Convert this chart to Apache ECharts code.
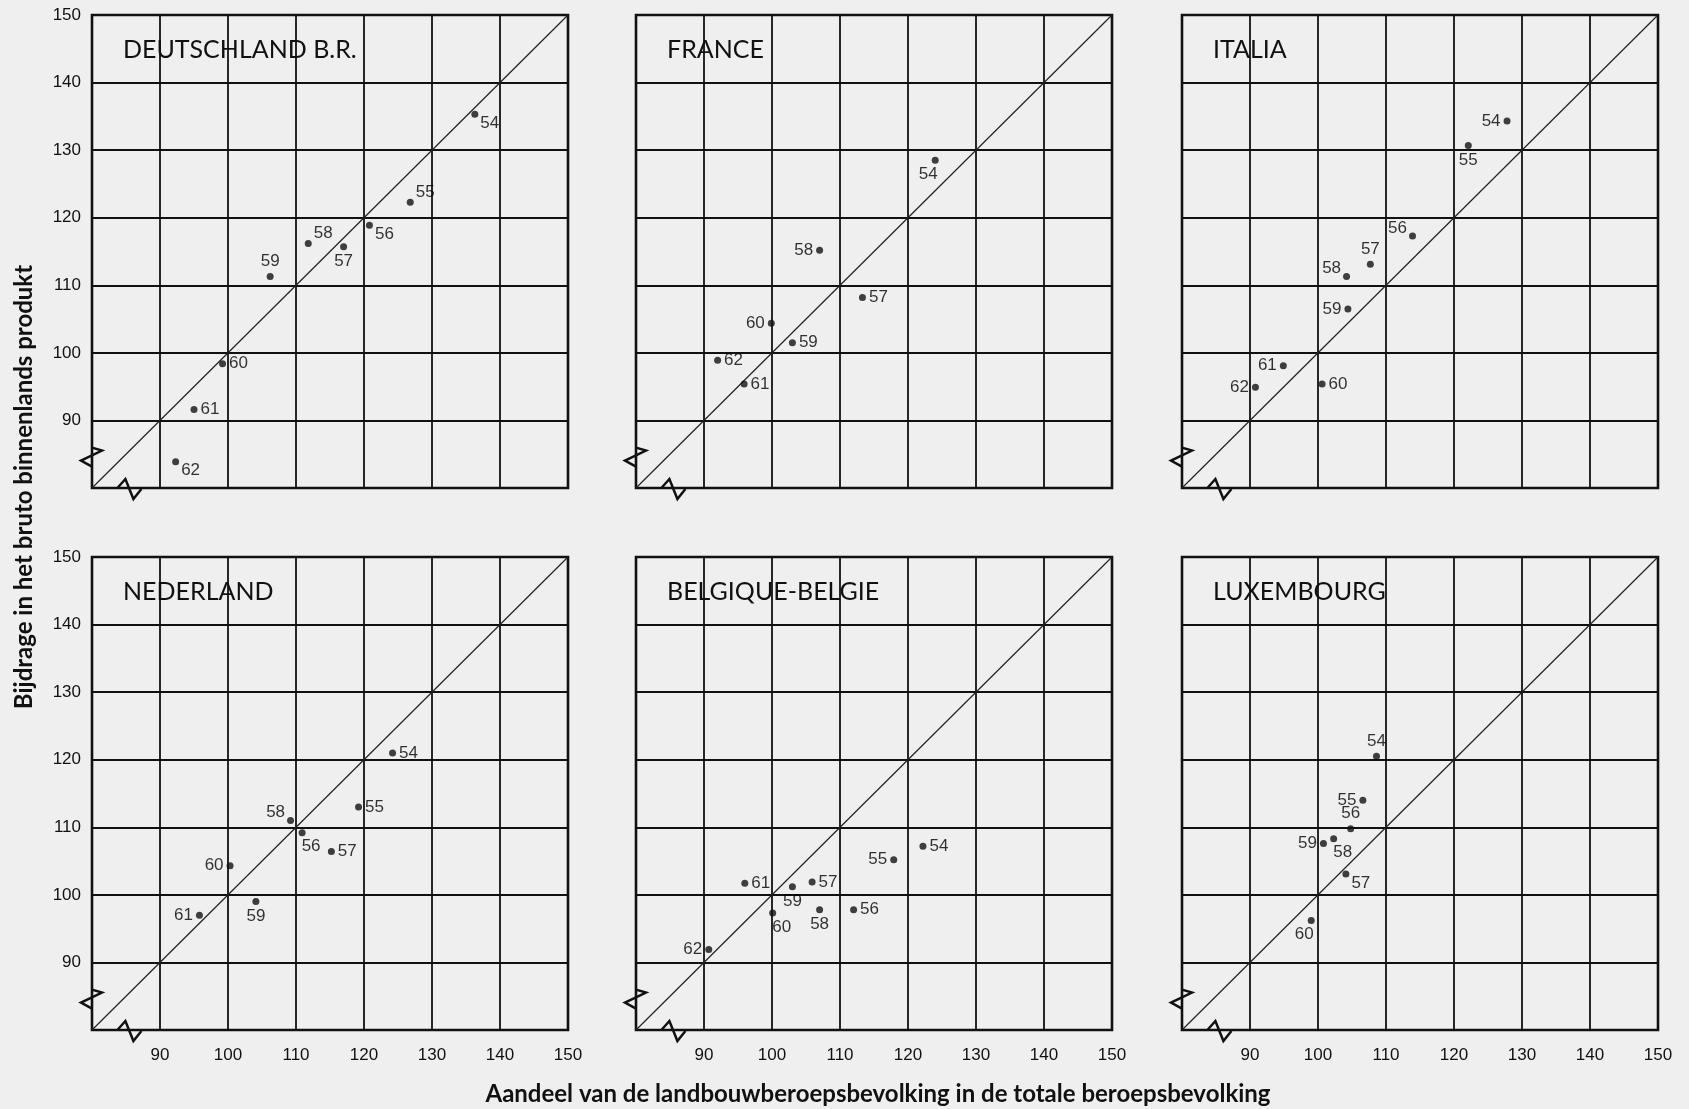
<!DOCTYPE html>
<html><head><meta charset="utf-8">
<script src="https://cdn.jsdelivr.net/npm/echarts@6/dist/echarts.min.js"></script>
<style>html,body{margin:0;padding:0;background:#efefef}#c{width:1689px;height:1109px}</style>
</head><body><div id="c"></div>
<script>
// ---- data ----
const countryNames = ['DEUTSCHLAND B.R.', 'FRANCE', 'ITALIA', 'NEDERLAND', 'BELGIQUE-BELGIE', 'LUXEMBOURG'];
const tickValues = [90, 100, 110, 120, 130, 140, 150];
const xAxisTitle = 'Aandeel van de landbouwberoepsbevolking in de totale beroepsbevolking';
const yAxisTitle = 'Bijdrage in het bruto binnenlands produkt';

const deYears = ['54','55','56','57','58','59','60','61','62'];
const deX = [136.3, 126.8, 120.8, 117.0, 111.8, 106.2, 99.2, 95.0, 92.3];
const deY = [135.3, 122.3, 118.9, 115.7, 116.2, 111.3, 98.4, 91.6, 83.9];

const frYears = ['54','57','58','59','60','61','62'];
const frX = [124.0, 113.3, 107.0, 103.0, 99.9, 95.9, 92.0];
const frY = [128.5, 108.2, 115.2, 101.5, 104.4, 95.4, 98.9];

const itYears = ['54','55','56','57','58','59','60','61','62'];
const itX = [127.8, 122.1, 113.9, 107.7, 104.2, 104.4, 100.6, 94.9, 90.8];
const itY = [134.3, 130.7, 117.3, 113.1, 111.3, 106.5, 95.4, 98.1, 94.9];

const nlYears = ['54','55','56','57','58','59','60','61'];
const nlX = [124.2, 119.2, 110.9, 115.2, 109.2, 104.1, 100.3, 95.8];
const nlY = [121.0, 113.0, 109.2, 106.4, 111.0, 99.0, 104.3, 97.0];

const beYears = ['54','55','56','57','58','59','60','61','62'];
const beX = [122.2, 117.9, 112.0, 105.9, 107.0, 103.0, 100.1, 96.0, 90.7];
const beY = [107.2, 105.2, 97.8, 101.9, 97.8, 101.2, 97.3, 101.7, 91.9];

const luYears = ['54','55','56','57','58','59','60'];
const luX = [108.6, 106.6, 104.8, 104.1, 102.3, 100.8, 99.0];
const luY = [120.5, 114.0, 109.8, 103.1, 108.3, 107.6, 96.2];

// label placement codes (style, kept separate from values)
const deLab = ['br','tr','br','b','tr','t','r','r','br'];
const frLab = ['bL','r','l','r','l','r','r'];
const itLab = ['l','b','tl','t','tl','l','r','l','l'];
const nlLab = ['r','r','bR','r','tl','b','l','l'];
const beLab = ['r','l','r','r','b','b','bR','r','l'];
const luLab = ['t','l','t','br','bR','l','bL'];

const AX_MIN = 80, AX_MAX = 150, AX_STEP = 10;
const BREAK_Y = 84.5, BREAK_X = 85.5;

// ---- layout ----
const panelLeft = [92, 636, 1182];
const panelTop = [15, 557];
const PW = 476, PH = 473;
const INK = '#111';
const NUM_FONT = '"Liberation Sans", Arial, sans-serif';
const TITLE_FONT = 'Lato, "Open Sans", sans-serif';

const sets = [
  [deYears, deX, deY, deLab],
  [frYears, frX, frY, frLab],
  [itYears, itX, itY, itLab],
  [nlYears, nlX, nlY, nlLab],
  [beYears, beX, beY, beLab],
  [luYears, luX, luY, luLab]
];

function labelFor(code) {
  const m = {
    r: {position: 'right', distance: 3, offset: [0, 0]},
    l: {position: 'left', distance: 3, offset: [0, 0]},
    t: {position: 'top', distance: 3, offset: [0, 0]},
    b: {position: 'bottom', distance: 3, offset: [0, 0]},
    br: {position: 'right', distance: 2, offset: [0, 9]},
    tr: {position: 'right', distance: 2, offset: [0, -10]},
    tl: {position: 'left', distance: 2, offset: [0, -8]},
    bl: {position: 'left', distance: 2, offset: [0, 9]},
    bR: {position: 'bottom', distance: 2, offset: [9, 0]},
    bL: {position: 'bottom', distance: 2, offset: [-7, 0]}
  };
  return m[code];
}

const grids = [], xAxes = [], yAxes = [], series = [], graphics = [];
for (let i = 0; i < 6; i++) {
  const col = i % 3, row = Math.floor(i / 3);
  grids.push({
    left: panelLeft[col], top: panelTop[row], width: PW, height: PH,
    show: true, borderColor: INK, borderWidth: 2.6, backgroundColor: 'transparent'
  });
  xAxes.push({
    gridIndex: i, type: 'value', min: AX_MIN, max: AX_MAX, interval: AX_STEP,
    axisLine: {show: false}, axisTick: {show: false},
    splitLine: {show: true, lineStyle: {color: INK, width: 1.8}},
    axisLabel: {show: row === 1, showMinLabel: false, margin: 17,
      formatter: v => (tickValues.indexOf(v) >= 0 ? String(v) : ''),
      color: INK, fontSize: 17, fontFamily: NUM_FONT}
  });
  yAxes.push({
    gridIndex: i, type: 'value', min: AX_MIN, max: AX_MAX, interval: AX_STEP,
    axisLine: {show: false}, axisTick: {show: false},
    splitLine: {show: true, lineStyle: {color: INK, width: 1.8}},
    axisLabel: {show: col === 0, showMinLabel: false, margin: 11,
      formatter: v => (tickValues.indexOf(v) >= 0 ? String(v) : ''),
      color: INK, fontSize: 17, fontFamily: NUM_FONT}
  });
  // diagonal reference line
  series.push({
    type: 'line', xAxisIndex: i, yAxisIndex: i, silent: true, symbol: 'none',
    data: [[AX_MIN, AX_MIN], [AX_MAX, AX_MAX]],
    lineStyle: {color: '#222', width: 1.2}, z: 3
  });
  // axis break marks
  series.push({
    type: 'custom', xAxisIndex: i, yAxisIndex: i, silent: true, clip: false, z: 4,
    data: [[AX_MIN, AX_MIN]],
    renderItem: function (params, api) {
      const p = api.coord([AX_MIN, BREAK_Y]);
      const q = api.coord([BREAK_X, AX_MIN]);
      const st = {stroke: INK, lineWidth: 2.5, fill: null};
      return {type: 'group', children: [
        {type: 'polyline', shape: {points: [[p[0], p[1] - 10], [p[0] + 10, p[1] - 7], [p[0] - 11, p[1] + 3], [p[0], p[1] + 9]]}, style: st},
        {type: 'polyline', shape: {points: [[q[0] - 12, q[1]], [q[0] - 4, q[1] - 9], [q[0] + 4, q[1] + 11], [q[0] + 12, q[1] + 1]]}, style: st}
      ]};
    }
  });
  const [yrs, xs, ys, labs] = sets[i];
  series.push({
    type: 'scatter', xAxisIndex: i, yAxisIndex: i, symbolSize: 7, z: 5,
    itemStyle: {color: INK},
    data: yrs.map((yr, k) => ({
      value: [xs[k], ys[k], yr],
      label: labelFor(labs[k])
    })),
    label: {show: true, formatter: p => p.value[2], color: '#000', fontSize: 17, fontFamily: NUM_FONT}
  });
  graphics.push({
    type: 'text', x: panelLeft[col] + 31, y: panelTop[row] + 35,
    style: {text: countryNames[i], fill: INK, font: '400 25px ' + TITLE_FONT,
      textAlign: 'left', textVerticalAlign: 'middle', align: 'left', verticalAlign: 'middle'}
  });
}
graphics.push({
  type: 'text', x: 878, y: 1094,
  style: {text: xAxisTitle, fill: INK, font: 'bold 24px ' + TITLE_FONT,
    textAlign: 'center', textVerticalAlign: 'middle', align: 'center', verticalAlign: 'middle'}
});
graphics.push({
  type: 'text', x: 24, y: 487, rotation: Math.PI / 2,
  style: {text: yAxisTitle, fill: INK, font: 'bold 24px ' + TITLE_FONT,
    textAlign: 'center', textVerticalAlign: 'middle', align: 'center', verticalAlign: 'middle'}
});

const chart = echarts.init(document.getElementById('c'), null, {renderer: 'canvas'});
chart.setOption({
  backgroundColor: '#efefef',
  animation: false,
  grid: grids, xAxis: xAxes, yAxis: yAxes, series: series, graphic: graphics
});
</script></body></html>
